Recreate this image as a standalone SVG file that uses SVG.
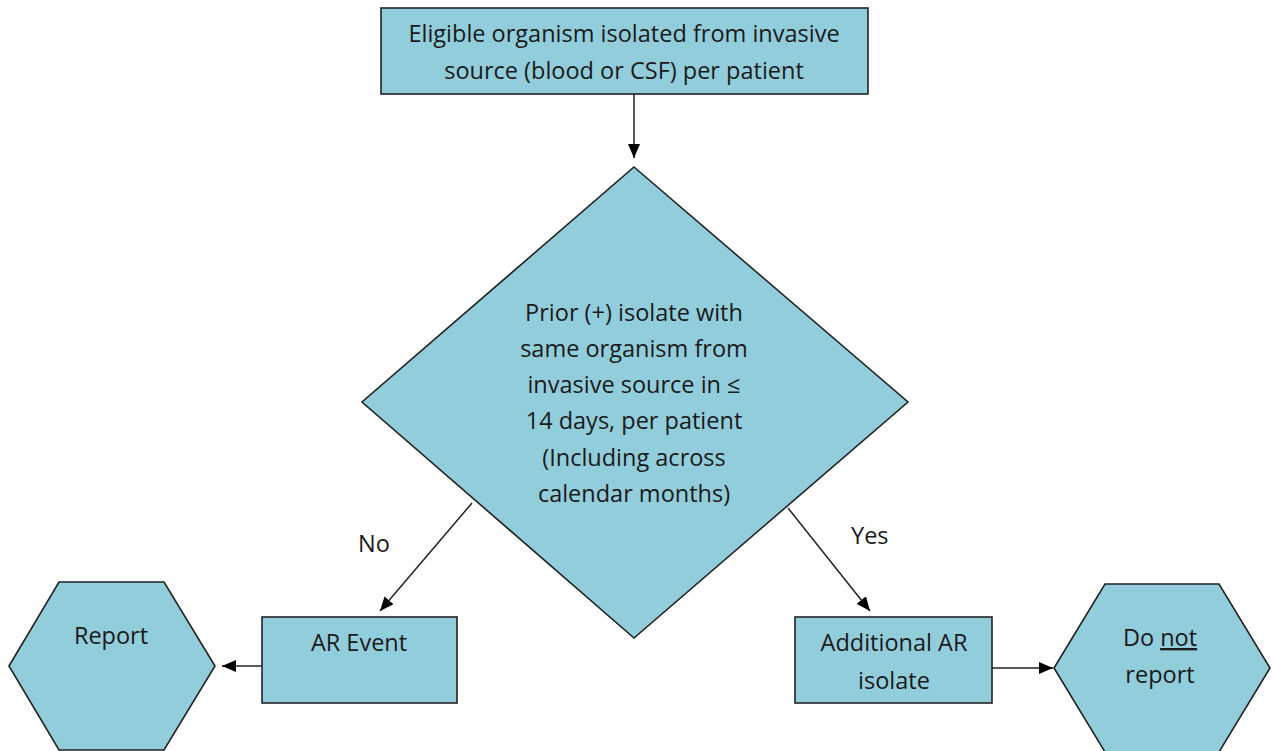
<svg xmlns="http://www.w3.org/2000/svg" width="1272" height="751" viewBox="0 0 1272 751">
<style>
.shape{fill:#92CDDC;stroke:#222;stroke-width:1.6}
.t{font-family:"Open Sans","Noto Sans",sans-serif;font-size:23.5px;fill:#1a1a1a;text-anchor:middle}
.lbl{font-family:"Open Sans","Noto Sans",sans-serif;font-size:23.5px;fill:#1a1a1a}
.c{stroke:#222;stroke-width:1.5;fill:none;marker-end:url(#ah)}
</style>
<defs>
<marker id="ah" markerWidth="14" markerHeight="12" refX="14" refY="6" orient="auto" markerUnits="userSpaceOnUse">
<path d="M0,0 L14,6 L0,12 Z" fill="#000"/>
</marker>
</defs>
<rect width="1272" height="751" fill="#fff"/>
<g id="connectors">
<line class="c" x1="634" y1="94" x2="634" y2="158"/>
<line class="c" x1="472" y1="503" x2="380" y2="611"/>
<line class="c" x1="788" y1="508" x2="870" y2="611"/>
<line class="c" x1="262" y1="666" x2="222" y2="666"/>
<line class="c" x1="992" y1="668" x2="1053" y2="668"/>
<text class="lbl" x="358" y="552">No</text>
<text class="lbl" x="851" y="544">Yes</text>
</g>
<g id="start">
<rect class="shape" x="381" y="8" width="487" height="86"/>
<text class="t" x="624" y="42">Eligible organism isolated from invasive</text>
<text class="t" x="624" y="79">source (blood or CSF) per patient</text>
</g>
<g id="decision">
<polygon class="shape" points="634,167 908,402 634,638 362,402"/>
<text class="t" x="634" y="321">Prior (+) isolate with</text>
<text class="t" x="634" y="357">same organism from</text>
<text class="t" x="634" y="393">invasive source in ≤</text>
<text class="t" x="634" y="429">14 days, per patient</text>
<text class="t" x="634" y="466">(Including across</text>
<text class="t" x="634" y="502">calendar months)</text>
</g>
<g id="ar-event">
<rect class="shape" x="262" y="617" width="195" height="86"/>
<text class="t" x="359" y="651">AR Event</text>
</g>
<g id="report">
<polygon class="shape" points="9,666 59,582 164,582 215,666 164,750 59,750"/>
<text class="t" x="111" y="644">Report</text>
</g>
<g id="additional">
<rect class="shape" x="795" y="617" width="197" height="86"/>
<text class="t" x="894" y="651">Additional AR</text>
<text class="t" x="894" y="689">isolate</text>
</g>
<g id="do-not-report">
<polygon class="shape" points="1054,668 1105,584 1219,584 1270,668 1219,752 1105,752"/>
<text class="t" x="1160" y="646">Do <tspan text-decoration="underline">not</tspan></text>
<text class="t" x="1160" y="683">report</text>
</g>
</svg>
